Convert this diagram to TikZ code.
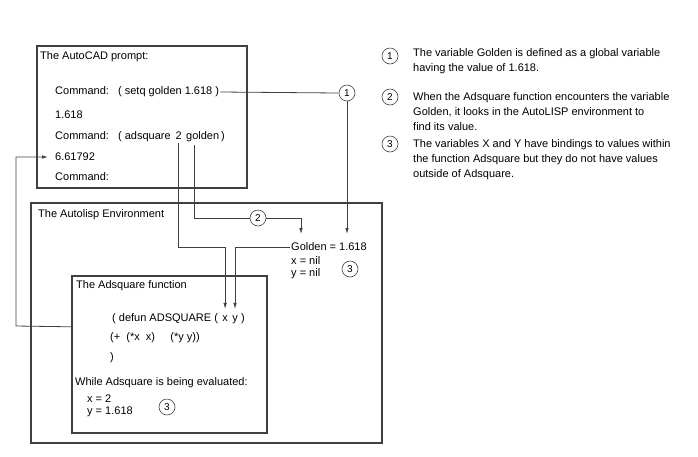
\documentclass[tikz,border=0pt]{standalone}
\usepackage{fontspec}
\setmainfont{Liberation Sans}
\usetikzlibrary{arrows.meta,positioning}
\definecolor{linegray}{HTML}{404040}
\tikzset{
    panel/.style={
    rectangle,draw=linegray,line width=1.6pt,anchor=north west,inner sep=0pt
    },
    txt/.style={
    anchor=west,inner sep=1pt,font=\fontsize{11}{13}\selectfont
    },
    piece/.style={
    anchor=base west,inner sep=0pt,font=\fontsize{11}{13}\selectfont
    },
    marker/.style={
    circle,draw=linegray,line width=0.6pt,inner sep=0pt,minimum size=16pt,font=\fontsize{10}{12}\selectfont
    },
    note/.style={
    anchor=north west,align=left,inner sep=0pt,font=\fontsize{11}{15}\selectfont
    },
    wire/.style={
    draw=linegray,line width=0.8pt
    },
    pointer/.style={
    wire,-{Latex[length=6pt,width=3.5pt]}
    },
}
\begin{document}
\begin{tikzpicture}[x=1pt, y=-1pt]
   \useasboundingbox (0,0) rectangle (698,456);

   %boxes
   \node[panel,minimum width=210pt,minimum height=142pt] (prompt) at (36,45) {};
   \node[panel,minimum width=351pt,minimum height=240pt] (env) at (30,202) {};
   \node[panel,minimum width=195pt,minimum height=157pt] (func) at (71,275) {};

   %the AutoCAD prompt
   \node[txt] (ptitle) at (39,57) {The AutoCAD prompt:};
   \node[txt] (cmd1) at (54,92) {Command:\ \ \ ( setq golden 1.618 )};
   \node[txt] (res1) at (54,115) {1.618};
   \node[piece] (cmd2) at (55,139) {Command:\ \ \ ( adsquare};
   \node[piece] (two) at ([xshift=4.5pt]cmd2.base east) {2};
   \node[piece] (gold) at ([xshift=4pt]two.base east) {golden};
   \node[piece] (close2) at ([xshift=1.5pt]gold.base east) {)};
   \node[txt] (res2) at (54,157) {6.61792};
   \node[txt] (cmd3) at (54,177) {Command:};

   %the Autolisp environment
   \node[txt] (etitle) at (37,215) {The Autolisp Environment};
   \node[txt] (golden) at (290,247) {Golden = 1.618};
   \node[txt] (xnil) at (290,261) {x = nil};
   \node[txt] (ynil) at (290,274) {y = nil};
   \node[marker] (m3a) at (350,269) {3};

   %the Adsquare function
   \node[txt] (ftitle) at (75,286) {The Adsquare function};
   \node[piece] (defun) at (112,321) {( defun ADSQUARE (};
   \node[piece] (xvar) at ([xshift=4pt]defun.base east) {x};
   \node[piece] (yvar) at ([xshift=4pt]xvar.base east) {y};
   \node[piece] (close1) at ([xshift=3pt]yvar.base east) {)};
   \node[txt] (body) at (109,338) {(+\ \ (*x\ \ x)\ \ \ \ \ (*y y))};
   \node[txt] (paren) at (109,358) {)};
   \node[txt] (while) at (74,383) {While Adsquare is being evaluated:};
   \node[txt,font=\fontsize{11}{12}\selectfont,align=left] (vals) at (86,406) {x = 2\\y = 1.618};
   \node[marker] (m3b) at (167,407) {3};

   %markers on the wires
   \node[marker] (m1) at (347,93) {1};
   \node[marker] (m2) at (258,218) {2};
   \coordinate (tipA) at (301,234);
   \coordinate (tipB) at (347,234);
   \coordinate (loop) at (16,326);

   %notes
   \node[marker] (n1) at (390,56) {1};
   \node[note] (note1) at (413,48) {The variable Golden is defined as a global variable\\having the value of 1.618.};
   \node[marker] (n2) at (390,97) {2};
   \node[note] (note2) at (413,92) {When the Adsquare function encounters the variable\\Golden, it looks in the AutoLISP environment to\\find its value.};
   \node[marker] (n3) at (390,144) {3};
   \node[note] (note3) at (413,139) {The variables X and Y have bindings to values within\\the function Adsquare but they do not have values\\outside of Adsquare.};

   %connections
   \draw[wire] (cmd1.east) -- (m1.west);
   \draw[pointer] (m1.south) -- (tipB);
   \draw[wire] ([yshift=-4pt]gold.south west) ++(8pt,0) |- (m2.west);
   \draw[pointer] (m2.east) -| (tipA);
   \draw[pointer] ([yshift=-4pt]two.south) |- (golden.west -| xvar.north) -- ([yshift=6pt]xvar.north);
   \draw[pointer] (golden.west) -| ([yshift=6pt]yvar.north);
   \draw[pointer,shorten >=6pt] ([yshift=27.5pt]func.west) -- (loop) |- (res2.west);
\end{tikzpicture}
\end{document}
